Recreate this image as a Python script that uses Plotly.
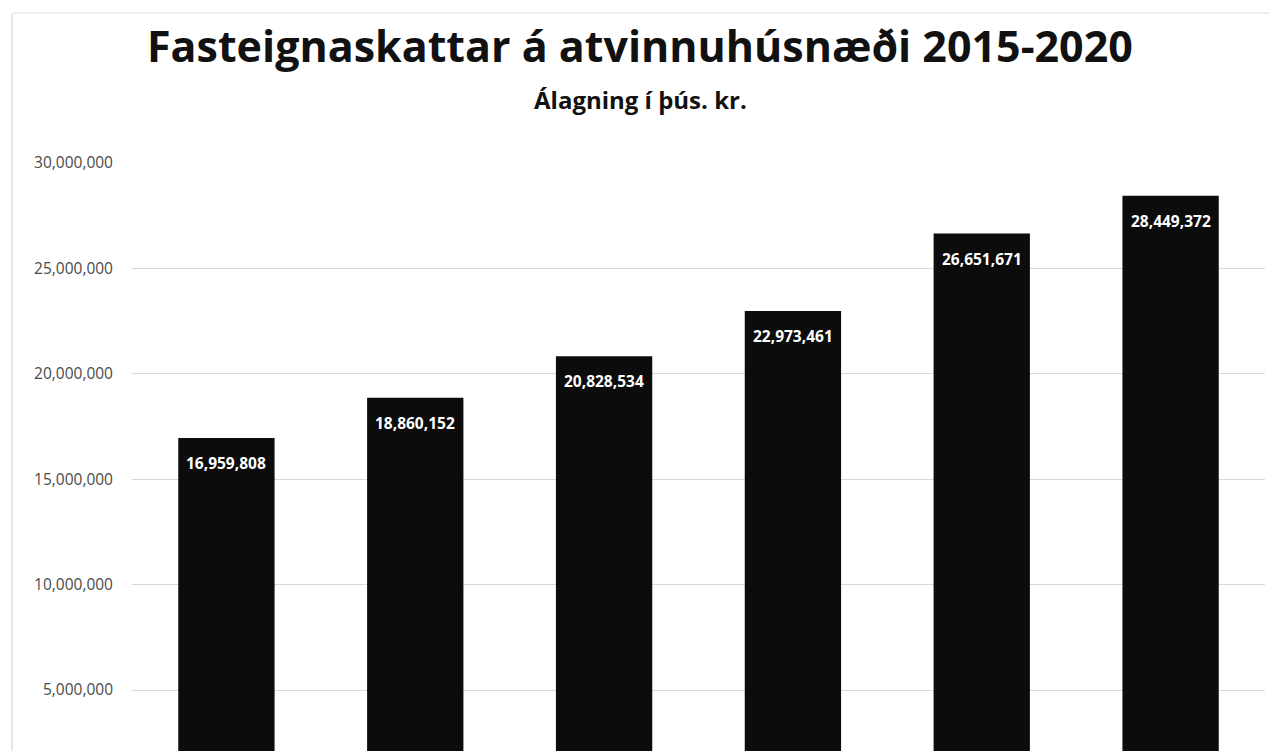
import plotly.graph_objects as go

years = ["2015", "2016", "2017", "2018", "2019", "2020"]
values = [16959808, 18860152, 20828534, 22973461, 26651671, 28449372]
tick_vals = [5000000, 10000000, 15000000, 20000000, 25000000, 30000000]
tick_text = ["5,000,000", "10,000,000", "15,000,000", "20,000,000", "25,000,000", "30,000,000"]

# page has an 8px body offset; work in page pixels and convert
OFF = 8
W, H = 1277 - OFF, 751 - OFF
L, R, T, B = 132 - OFF, 1277 - 1265, 163 - OFF, 0
pw, ph = W - L - R, H - T - B

def px(x):
    return (x - OFF - L) / pw

def py(y):
    return (H - B - (y - OFF)) / ph

fig = go.Figure()
fig.add_trace(go.Bar(
    x=years, y=values,
    marker=dict(color="#0c0c0c", line=dict(width=0)),
    hoverinfo="x+y",
))

# value labels inside the top of each bar (x given as category index)
for i, v in enumerate(values):
    fig.add_annotation(x=i, y=v, xref="x", yref="y", text=f"<b>{v:,}</b>",
                       showarrow=False, yanchor="top", yshift=-12,
                       font=dict(family="Open Sans", size=15.5, color="white"))

fig.update_layout(
    width=W, height=H,
    margin=dict(l=L, r=R, t=T, b=B),
    paper_bgcolor="white", plot_bgcolor="white",
    bargap=0.49,
    showlegend=False,
    xaxis=dict(type="category", categoryarray=years, range=[-0.5, len(years) - 0.5],
               autorange=False, showticklabels=False, showgrid=False, zeroline=False,
               showline=False, ticks=""),
    yaxis=dict(range=[2.106e6, 30.0e6], tickvals=tick_vals, ticktext=tick_text,
               showgrid=True, gridcolor="#d9d9d9", gridwidth=1, zeroline=False,
               showline=False, ticks="", ticklabelstandoff=18,
               tickfont=dict(family="Open Sans", size=15.5, color="#4a4a4a")),
    font=dict(family="Open Sans"),
)

fig.add_annotation(text="<b>Fasteignaskattar á atvinnuhúsnæði 2015-2020</b>",
                   xref="paper", yref="paper", x=px(640), y=py(46), xanchor="center", yanchor="middle",
                   showarrow=False, font=dict(family="Open Sans", size=43, color="#111111"))
fig.add_annotation(text="<b>Álagning í þús. kr.</b>",
                   xref="paper", yref="paper", x=px(640), y=py(100), xanchor="center", yanchor="middle",
                   showarrow=False, font=dict(family="Open Sans", size=24, color="#111111"))

# frame lines of the original chart area
fig.add_shape(type="line", xref="paper", yref="paper", x0=px(12), x1=px(12), y0=0, y1=py(14),
              line=dict(color="#d0d0d0", width=1))
fig.add_shape(type="line", xref="paper", yref="paper", x0=px(12), x1=px(1277), y0=py(13), y1=py(13),
              line=dict(color="#dcdcdc", width=1))

fig.write_html("out.html")
